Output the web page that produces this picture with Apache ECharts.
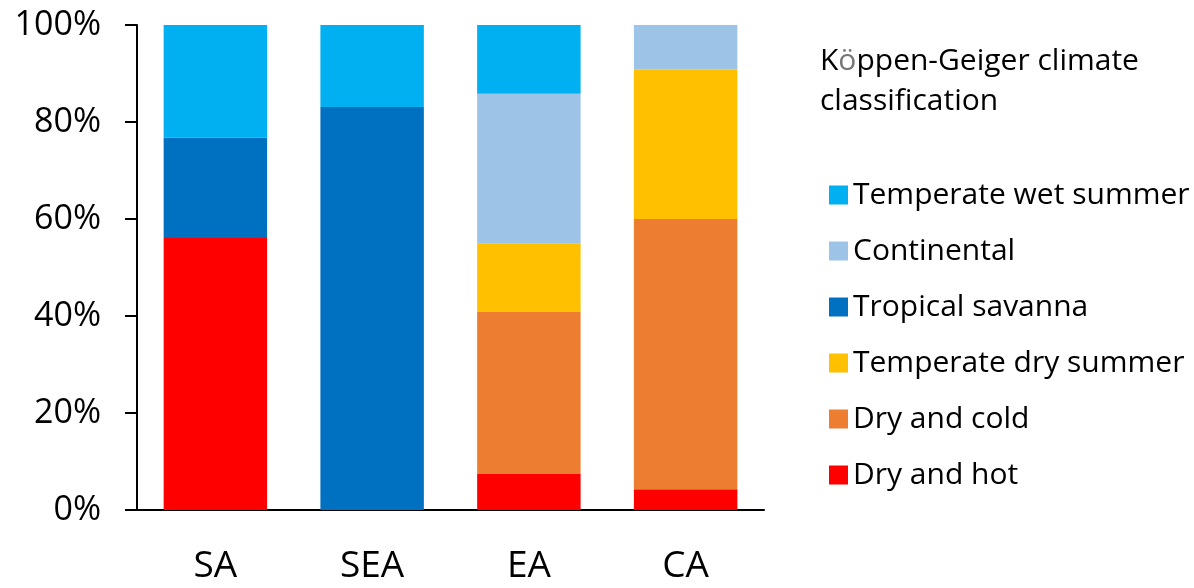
<!DOCTYPE html>
<html>
<head>
<meta charset="utf-8">
<script src="https://cdn.jsdelivr.net/npm/echarts@6/dist/echarts.min.js"></script>
<style>html,body{margin:0;padding:0;background:#fff}#c{width:1194px;height:588px}</style>
</head>
<body>
<div id="c"></div>
<script>
const categories = ['SA', 'SEA', 'EA', 'CA'];
const dryHot = [56.1, 0, 7.4, 4.3];
const dryCold = [0, 0, 33.4, 55.7];
const tempDrySummer = [0, 0, 14.1, 30.9];
const tropicalSavanna = [20.7, 83.1, 0, 0];
const continental = [0, 0, 30.9, 9.1];
const tempWetSummer = [23.2, 16.9, 14.2, 0];
const yTicks = [0, 20, 40, 60, 80, 100];

const FONT = '"Open Sans", "Noto Sans", sans-serif';
const seriesDefs = [
  ['Dry and hot', dryHot, '#FF0000'],
  ['Dry and cold', dryCold, '#ED7D31'],
  ['Temperate dry summer', tempDrySummer, '#FFC000'],
  ['Tropical savanna', tropicalSavanna, '#0070C0'],
  ['Continental', continental, '#9DC3E6'],
  ['Temperate wet summer', tempWetSummer, '#00B0F0']
];

const chart = echarts.init(document.getElementById('c'), null, {renderer: 'canvas'});
chart.setOption({
  animation: false,
  backgroundColor: '#fff',
  title: {
    text: 'K{g|ö}ppen-Geiger climate\nclassification',
    left: 815, top: 36,
    textStyle: {
      fontFamily: FONT, fontSize: 30, fontWeight: 'normal', color: '#000', lineHeight: 40,
      rich: { g: { color: '#777', fontFamily: FONT, fontSize: 30, lineHeight: 40 } }
    }
  },
  legend: {
    orient: 'vertical',
    left: 824, top: 175,
    icon: 'rect',
    itemWidth: 19, itemHeight: 19, itemGap: 26,
    data: ['Temperate wet summer', 'Continental', 'Tropical savanna', 'Temperate dry summer', 'Dry and cold', 'Dry and hot'],
    textStyle: { fontFamily: FONT, fontSize: 30, color: '#000', padding: [0, 0, 0, 0] }
  },
  grid: { left: 137, right: 430, top: 25, bottom: 78, containLabel: false },
  xAxis: {
    type: 'category',
    data: categories,
    axisLine: { show: true, lineStyle: { color: '#000', width: 2 } },
    axisTick: { show: false },
    axisLabel: { fontFamily: FONT, fontSize: 37, color: '#000', margin: 38 }
  },
  yAxis: {
    type: 'value',
    min: yTicks[0], max: yTicks[yTicks.length - 1], interval: 20,
    axisLine: { show: true, lineStyle: { color: '#000', width: 2 } },
    axisTick: { show: true, inside: false, length: 12, lineStyle: { color: '#000', width: 2 } },
    splitLine: { show: false },
    axisLabel: { fontFamily: FONT, fontSize: 34, color: '#000', margin: 36, formatter: '{value}%' }
  },
  series: seriesDefs.map(([name, data, color]) => ({
    name, type: 'bar', stack: 'total', data,
    barCategoryGap: '34%',
    itemStyle: { color }
  }))
});
</script>
</body>
</html>
